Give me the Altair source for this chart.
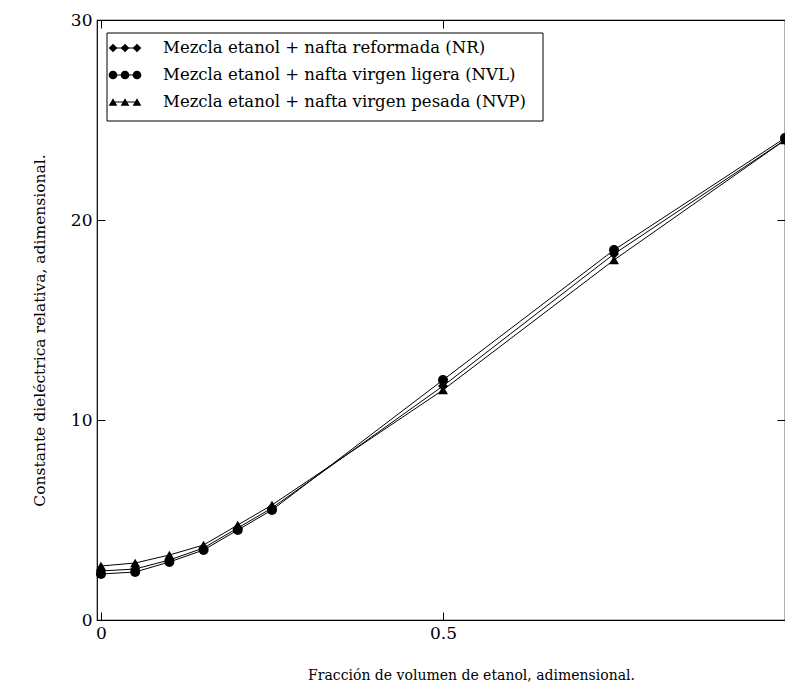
import altair as alt
import pandas as pd

# ---- data ----
x_frac = [0, 0.05, 0.1, 0.15, 0.2, 0.25, 0.5, 0.75, 1.0]
nr = [2.45, 2.55, 3.0, 3.6, 4.6, 5.6, 11.7, 18.3, 24.0]
nvl = [2.3, 2.4, 2.9, 3.5, 4.5, 5.5, 12.0, 18.5, 24.1]
nvp = [2.7, 2.85, 3.25, 3.75, 4.75, 5.75, 11.5, 18.0, 24.0]
series_labels = [
    "Mezcla etanol + nafta reformada (NR)",
    "Mezcla etanol + nafta virgen ligera (NVL)",
    "Mezcla etanol + nafta virgen pesada (NVP)",
]
series_shapes = ["diamond", "circle", "triangle-up"]
x_ticks = [0, 0.5]
y_ticks = [0, 10, 20, 30]

FONT = "DejaVu Serif"

rows = []
for lab, vals in zip(series_labels, [nr, nvl, nvp]):
    for xv, yv in zip(x_frac, vals):
        rows.append({"serie": lab, "x": xv, "y": yv})
df = pd.DataFrame(rows)

xscale = alt.Scale(domain=[-0.0058, 1.0], nice=False, zero=False)
yscale = alt.Scale(domain=[0, 30], nice=False)

shape_scale = alt.Scale(domain=series_labels, range=series_shapes)

common_axis = dict(domain=False, grid=False, tickColor="black", tickSize=8,
                   offset=-8, labelFont=FONT, labelFontSize=17, format="~r",
                   labelColor="black", titleFont=FONT,
                   titleColor="black", titleFontWeight="normal")

base = alt.Chart(df)

lines = base.mark_line(color="black", strokeWidth=1).encode(
    x=alt.X("x:Q", scale=xscale,
            axis=alt.Axis(values=x_ticks, title="Fracción de volumen de etanol, adimensional.",
                          labelPadding=5, titlePadding=27, titleX=374, titleFontSize=14,
                          **common_axis)),
    y=alt.Y("y:Q", scale=yscale,
            axis=alt.Axis(values=y_ticks, title="Constante dieléctrica relativa, adimensional.",
                          labelPadding=5, titlePadding=23, titleY=310, titleFontSize=15.5,
                          **common_axis)),
    detail="serie:N",
)

points = base.mark_point(filled=True, color="black", opacity=1, size=100).encode(
    x=alt.X("x:Q", scale=xscale, axis=None),
    y=alt.Y("y:Q", scale=yscale, axis=None),
    shape=alt.Shape("serie:N", scale=shape_scale, legend=None),
)

# mirrored ticks on top and right
mirror = base.mark_point(opacity=0).encode(
    x=alt.X("x:Q", scale=xscale, axis=alt.Axis(orient="top", values=x_ticks, labels=False,
                                                title=None, domain=False, tickColor="black",
                                                tickSize=8, offset=-8, grid=False)),
    y=alt.Y("y:Q", scale=yscale, axis=alt.Axis(orient="right", values=y_ticks, labels=False,
                                                title=None, domain=False, tickColor="black",
                                                tickSize=8, offset=-8, grid=False)),
)

# ---- manual legend (MATLAB style, three markers per entry) ----
box = alt.Chart(pd.DataFrame({"a": [0]})).mark_rect(
    fill="white", stroke="black", strokeWidth=1).encode(
    x=alt.value(10), x2=alt.value(446), y=alt.value(13), y2=alt.value(101))

legend_layers = [box]
row_y = [28, 55, 82]
for lab, shp, ry in zip(series_labels, series_shapes, row_y):
    d = pd.DataFrame({"serie": [lab]})
    legend_layers.append(alt.Chart(d).mark_rule(color="black", strokeWidth=1).encode(
        x=alt.value(15), x2=alt.value(42), y=alt.value(ry)))
    for mx in [16, 28, 40]:
        legend_layers.append(alt.Chart(d).mark_point(
            filled=True, color="black", opacity=1, size=75, shape=shp).encode(
            x=alt.value(mx), y=alt.value(ry)))
    legend_layers.append(alt.Chart(d).mark_text(
        align="left", baseline="middle", font=FONT, fontSize=16.5, color="black").encode(
        x=alt.value(66), y=alt.value(ry), text="serie:N"))

chart = alt.layer(lines, points, mirror, *legend_layers).resolve_scale(
    shape="independent"
).resolve_axis(
    x="independent", y="independent"
).properties(
    width=688, height=600,
    autosize=alt.AutoSizeParams(type="none"),
    padding={"left": 89, "top": 12, "right": 0, "bottom": 65},
    background="white",
).configure_view(stroke="black", strokeWidth=1.2)

chart.save("out.html", embed_options={"renderer": "svg", "actions": False})
